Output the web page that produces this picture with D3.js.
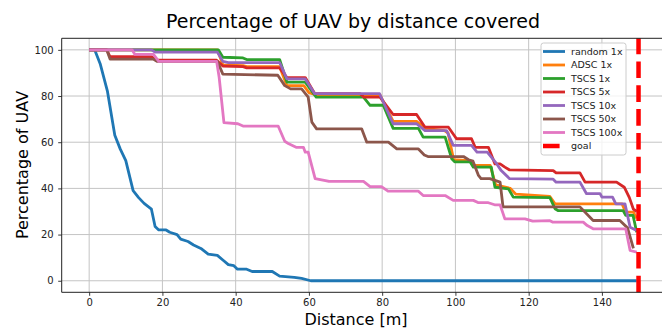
<!DOCTYPE html>
<html>
<head>
<meta charset="utf-8">
<script src="https://cdn.jsdelivr.net/npm/d3@7"></script>
<style>
  body { margin: 0; background: #fff; }
  svg { display: block; font-family: "DejaVu Sans", sans-serif; }
</style>
</head>
<body>
<svg id="chart" width="662" height="330"></svg>
<script>
// series: [distance, percentage]
const random1x = [[0,100],[1.5,100],[3,94],[5,82],[7,63],[8.5,57],[10,52],[12,39],[13.5,36],[15,33.5],[17,31],[18,23.5],[19,22],[21,22],[22,21],[24,20],[25,18],[27,17],[28.5,15.5],[30.5,14],[32.5,11.5],[35,11],[36.5,9],[38,7],[39.5,6.5],[40.5,5],[43,5],[44.5,4],[50,4],[52,2],[56,1.5],[58,1],[60.5,0],[149.5,0]]
const adsc1x = [[0,100],[35,100],[36.5,93.5],[42,93.2],[43,92.7],[52,92.7],[54,84.5],[58.6,84.5],[60,81.5],[62,80.5],[79.4,80.5],[83,69],[89.4,69],[91.7,66],[97,65],[98,64],[99.5,52.5],[104,52],[105,50],[109.5,50],[111,41.5],[115,40],[116.5,37.5],[125.8,36.5],[127.2,33.3],[145.5,33.3],[146.5,29.7],[148.6,29.7],[149.5,27]]
const tscs1x = [[0,100],[35.3,100],[36.5,96.8],[42,96.5],[43,95.8],[52,95.8],[54,86],[59,86],[62,79.5],[74.9,79.5],[76.7,76],[80.3,76],[83,66],[89.9,66],[91.2,62.2],[97.2,62.2],[99,52.8],[99.8,51.5],[104,51.5],[104.9,49.2],[109.8,49.2],[110.8,40.5],[114.5,39.8],[115.8,36.2],[125.8,36],[127.2,31.2],[128,30.4],[145.8,30.4],[146.5,28.3],[148.5,28.3],[149.5,21]]
const tscs5x = [[0,100],[4.8,100],[5.7,97],[17,97],[18.5,95.5],[34.8,95.5],[36.5,93],[42,92.7],[43,92.2],[52,92.2],[54,88],[59,88],[61.6,81],[74,81],[75,79.5],[79.4,79.5],[83,72],[89.4,72],[91.7,66.5],[98.1,66.5],[100.3,61.5],[104.4,61.5],[105.4,57.8],[109,57.8],[110.8,50.6],[112.2,50.6],[113.5,49.2],[114.8,48],[126.7,47.7],[127.5,46.7],[134,46.7],[135.4,42.7],[144,42.7],[146.1,40.5],[147.5,36],[148.6,31],[149.5,30]]
const tscs10x = [[0,100],[17,100],[18,99],[35,99],[36.5,95],[38,94.5],[52,94.5],[54,87.4],[59,87.4],[61.6,81],[79.3,81],[83,68],[89.4,68],[91.7,65],[97.6,65],[99.4,58.6],[104.4,58.6],[105.9,55.7],[108.7,55.7],[111.3,50.6],[112.5,47.7],[114.8,44.2],[126.7,44],[127.5,42.7],[134,42.7],[135.8,37.7],[139.5,37.7],[140,36.2],[142.9,36.2],[143.8,33.3],[146.3,33.3],[147.7,23.2],[149.5,21.8]]
const tscs50x = [[0,100],[4.8,100],[5.7,96],[17.5,96],[18.5,95],[35,95],[36.5,89.5],[51.5,89],[53.4,84.5],[55,83.1],[58,83.1],[59.8,79.5],[60.8,68.7],[62.1,65.8],[74.4,65.8],[75.8,60],[81.7,60],[84,57.1],[89.9,57.1],[91.5,54.5],[92.5,53.8],[102.2,53.8],[103.6,52.4],[104.8,51.8],[106.3,45.6],[107,44.2],[109.4,44.2],[112.2,42.7],[113,32],[134,32],[137.6,26.1],[144.9,26.1],[147,22.9],[148.6,14]]
const tscs100x = [[0,100],[11.7,100],[12.5,98],[17.6,98],[19,95],[34.8,95],[35.5,88],[36.8,68.5],[40.6,68],[42,67],[51.6,67],[53.4,60.4],[54.5,59.3],[56.5,57.8],[58.5,57.8],[59,55.7],[59.8,55.7],[61.7,44.2],[64.5,43.4],[65.5,43],[74.9,43],[76.7,40.8],[79.8,40.8],[81.6,38.8],[89.9,38.8],[91.2,36.9],[97.2,36.9],[99.4,34.8],[104.9,34.8],[106.3,33.8],[109,33.8],[110.7,32.9],[112.2,32.9],[113.5,26.8],[119,26.8],[121.1,25.8],[125.8,26],[126.5,25.4],[134.9,25.4],[136,23.9],[137.6,22.5],[146.5,22.5],[147.7,13.1],[149.5,12.4]]
const goalX = 150

const seriesNames = ['random 1x', 'ADSC 1x', 'TSCS 1x', 'TSCS 5x', 'TSCS 10x', 'TSCS 50x', 'TSCS 100x']
const seriesData = [random1x, adsc1x, tscs1x, tscs5x, tscs10x, tscs50x, tscs100x]
const colors = ['#1f77b4', '#ff7f0e', '#2ca02c', '#d62728', '#9467bd', '#8c564b', '#e377c2']
const xTicks = [0, 20, 40, 60, 80, 100, 120, 140]
const yTicks = [0, 20, 40, 60, 80, 100]

const svg = d3.select('#chart')
const plotLeft = 61.7, plotTop = 38.3, plotRight = 666, plotBottom = 292.3

const x = d3.scaleLinear().domain([-7.5, 157.5]).range([plotLeft, plotRight])
const y = d3.scaleLinear().domain([-5, 105]).range([plotBottom, plotTop])

// grid
svg.append('g').selectAll('line').data(xTicks).join('line')
    .attr('x1', d => x(d)).attr('x2', d => x(d))
    .attr('y1', plotTop).attr('y2', plotBottom)
    .attr('stroke', '#c4c4c4').attr('stroke-width', 1)
svg.append('g').selectAll('line').data(yTicks).join('line')
    .attr('x1', plotLeft).attr('x2', plotRight)
    .attr('y1', d => y(d)).attr('y2', d => y(d))
    .attr('stroke', '#c4c4c4').attr('stroke-width', 1)

// axes
const xAxis = svg.append('g').attr('transform', `translate(0,${plotBottom})`)
    .call(d3.axisBottom(x).tickValues(xTicks).tickSize(3.5).tickPadding(3))
const yAxis = svg.append('g').attr('transform', `translate(${plotLeft},0)`)
    .call(d3.axisLeft(y).tickValues(yTicks).tickSize(3.5).tickPadding(4.5))
;[xAxis, yAxis].forEach(function (a) {
    a.select('.domain').remove()
    a.selectAll('text').attr('font-size', 10).attr('font-family', 'DejaVu Sans').attr('fill', '#222')
    a.selectAll('line').attr('stroke', '#222').attr('stroke-width', 0.9)
})

// lines
const line = d3.line().x(d => x(d[0])).y(d => y(d[1]))
seriesData.forEach(function (s, i) {
    svg.append('path').datum(s)
        .attr('d', line)
        .attr('fill', 'none')
        .attr('stroke', colors[i])
        .attr('stroke-width', 2.8)
        .attr('stroke-linejoin', 'round')
})
svg.append('line')
    .attr('x1', x(goalX)).attr('x2', x(goalX))
    .attr('y1', plotBottom).attr('y2', plotTop)
    .attr('stroke', '#ff0000').attr('stroke-width', 4.5)
    .attr('stroke-dasharray', '16.6,7.2')

// spines
svg.append('path')
    .attr('d', `M${plotRight},${plotTop}H${plotLeft}V${plotBottom}H${plotRight}`)
    .attr('fill', 'none').attr('stroke', '#222').attr('stroke-width', 1)

// legend
const lg = svg.append('g').attr('transform', 'translate(541,43)')
lg.append('rect').attr('width', 85).attr('height', 112).attr('rx', 2.5)
    .attr('fill', 'white').attr('fill-opacity', 0.8)
    .attr('stroke', '#cccccc').attr('stroke-width', 1)
const legendItems = seriesNames.map((n, i) => ({ name: n, color: colors[i], dash: null }))
legendItems.push({ name: 'goal', color: '#ff0000', dash: '16.6,7.2' })
legendItems.forEach(function (it, i) {
    const yy = 8.5 + i * 13.5
    lg.append('line').attr('x1', 2).attr('x2', 24).attr('y1', yy).attr('y2', yy)
        .attr('stroke', it.color).attr('stroke-width', it.dash ? 4.5 : 2.8)
        .attr('stroke-dasharray', it.dash)
    lg.append('text').attr('x', 30).attr('y', yy + 3.4)
        .attr('font-size', 9.5).attr('fill', '#222').text(it.name)
})

// labels
svg.append('text').attr('x', 353).attr('y', 28).attr('text-anchor', 'middle')
    .attr('font-size', 19).attr('fill', '#000').text('Percentage of UAV by distance covered')
svg.append('text').attr('x', 356).attr('y', 325).attr('text-anchor', 'middle')
    .attr('font-size', 16).attr('fill', '#000').text('Distance [m]')
svg.append('text').attr('transform', 'translate(28,165) rotate(-90)').attr('text-anchor', 'middle')
    .attr('font-size', 16).attr('fill', '#000').text('Percentage of UAV')
</script>
</body>
</html>
